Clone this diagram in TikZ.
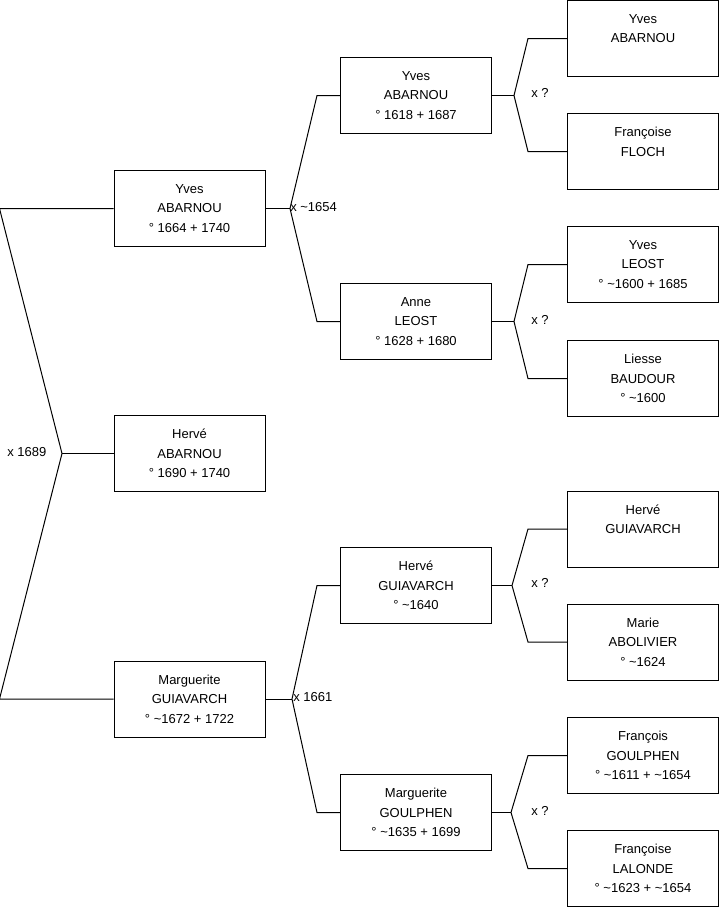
\documentclass[tikz,border=0pt]{standalone}
\usepackage{fontspec}
\setmainfont{Liberation Sans}
\usetikzlibrary{calc}
\tikzset{
  person/.style={draw,line width=0.75pt,minimum width=113.25pt,minimum height=57pt,
    inner sep=0pt,align=center,font=\fontsize{9.75}{14.6}\selectfont},
  union/.style={anchor=west,inner sep=0pt,font=\fontsize{9.75}{11}\selectfont},
  link/.style={line width=0.75pt},
}
\begin{document}
\begin{tikzpicture}[x=0.75pt,y=-0.75pt]
  \useasboundingbox (0,0) rectangle (719,908);
  % Generation 1
  \node[person] (y1) at (189.5,208.5) {Yves\\ABARNOU\\° 1664 + 1740};
  \node[person] (h1) at (189.5,453.5) {Hervé\\ABARNOU\\° 1690 + 1740};
  \node[person] (m1) at (189.5,699) {Marguerite\\GUIAVARCH\\° \textasciitilde1672 + 1722};
  % Generation 2
  \node[person] (y2) at (416,95.5) {Yves\\ABARNOU\\° 1618 + 1687};
  \node[person] (a2) at (416,321.5) {Anne\\LEOST\\° 1628 + 1680};
  \node[person] (h2) at (416,585.5) {Hervé\\GUIAVARCH\\° \textasciitilde1640};
  \node[person] (m2) at (416,812.5) {Marguerite\\GOULPHEN\\° \textasciitilde1635 + 1699};
  % Generation 3
  \node[person] (y3) at (643,38.5) {Yves\\ABARNOU\\\mbox{}};
  \node[person] (f3) at (643,151.5) {Françoise\\FLOCH\\\mbox{}};
  \node[person] (l3) at (643,264.5) {Yves\\LEOST\\° \textasciitilde1600 + 1685};
  \node[person] (b3) at (643,378.5) {Liesse\\BAUDOUR\\° \textasciitilde1600};
  \node[person] (g3) at (643,529) {Hervé\\GUIAVARCH\\\mbox{}};
  \node[person] (o3) at (643,642) {Marie\\ABOLIVIER\\° \textasciitilde1624};
  \node[person] (p3) at (643,755.5) {François\\GOULPHEN\\° \textasciitilde1611 + \textasciitilde1654};
  \node[person] (d3) at (643,868.5) {Françoise\\LALONDE\\° \textasciitilde1623 + \textasciitilde1654};
  % Marriage points
  \coordinate (k0) at (62,453.5);
  \coordinate (k1) at (290,208.5);
  \coordinate (k2) at (292,699);
  \coordinate (k3) at (514,95.5);
  \coordinate (k4) at (514,321.5);
  \coordinate (k5) at (512,585.5);
  \coordinate (k6) at (511,812.5);
  % Parents to child
  \draw[link] (y1.west) -- ++(-114,0) -- (k0) -- ($(m1.west)+(-114,0)$) -- (m1.west);
  \draw[link] (k0) -- (h1.west);
  \draw[link] (y1.east) -- (k1);
  \draw[link] (y2.west) -- ++(-23,0) -- (k1) -- ($(a2.west)+(-23,0)$) -- (a2.west);
  \draw[link] (m1.east) -- (k2);
  \draw[link] (h2.west) -- ++(-23,0) -- (k2) -- ($(m2.west)+(-23,0)$) -- (m2.west);
  \draw[link] (y2.east) -- (k3);
  \draw[link] (y3.west) -- ++(-39,0) -- (k3) -- ($(f3.west)+(-39,0)$) -- (f3.west);
  \draw[link] (a2.east) -- (k4);
  \draw[link] (l3.west) -- ++(-39,0) -- (k4) -- ($(b3.west)+(-39,0)$) -- (b3.west);
  \draw[link] (h2.east) -- (k5);
  \draw[link] (g3.west) -- ++(-39,0) -- (k5) -- ($(o3.west)+(-39,0)$) -- (o3.west);
  \draw[link] (m2.east) -- (k6);
  \draw[link] (p3.west) -- ++(-39,0) -- (k6) -- ($(d3.west)+(-39,0)$) -- (d3.west);
  % Marriage dates
  \node[union] (u0) at (7,452) {x 1689};
  \node[union] (u1) at (290,207) {x \textasciitilde1654};
  \node[union] (u2) at (293,697.5) {x 1661};
  \foreach \i/\y in {3/93, 4/320, 5/583, 6/811}
    \node[union] (u\i) at (531,\y) {x ?};
\end{tikzpicture}
\end{document}
